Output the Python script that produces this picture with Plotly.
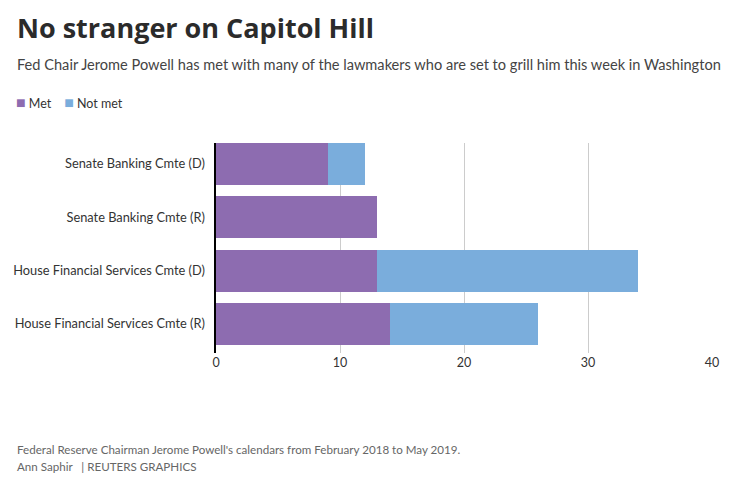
import plotly.graph_objects as go

categories = ["Senate Banking Cmte (D)", "Senate Banking Cmte (R)",
              "House Financial Services Cmte (D)", "House Financial Services Cmte (R)"]
met = [9, 13, 13, 14]
not_met = [3, 0, 21, 12]
x_ticks = [0, 10, 20, 30, 40]
series_names = ["Met", "Not met"]
series_colors = ["#8d6cb0", "#7aaddc"]

FONT = "Lato"
OFF = 8  # page body margin
W, H = 740 - OFF, 484 - OFF
L, R, T, B = 216 - OFF, 28, 143 - OFF, 131
pw, ph = W - L - R, H - T - B

def px(x):
    return (x - OFF - L) / pw

def py(y):
    return (H - B - (y - OFF)) / ph

fig = go.Figure()
for name, vals, col in zip(series_names, [met, not_met], series_colors):
    fig.add_trace(go.Bar(y=categories, x=vals, name=name, orientation="h",
                         marker=dict(color=col, line=dict(width=0)), showlegend=False))

def sq(c):
    return f'<span style="color:{c};font-size:16px">■</span>'

annotations = [
    dict(text="<b>No stranger on Capitol Hill</b>", x=px(15), y=py(28),
         font=dict(size=27, color="#2b2b2b", family="Open Sans")),
    dict(text="Fed Chair Jerome Powell has met with many of the lawmakers who are set to grill him this week in Washington",
         x=px(15), y=py(64), font=dict(size=14.6, color="#444444", family=FONT)),
    dict(text=f"{sq(series_colors[0])} {series_names[0]}    {sq(series_colors[1])} {series_names[1]}",
         x=px(14), y=py(101), font=dict(size=12.5, color="#333333", family=FONT)),
    dict(text="Federal Reserve Chairman Jerome Powell's calendars from February 2018 to May 2019.",
         x=px(15), y=py(449), font=dict(size=11.6, color="#666666", family=FONT)),
    dict(text="Ann Saphir   | REUTERS GRAPHICS",
         x=px(15), y=py(467), font=dict(size=11.6, color="#666666", family=FONT)),
]
for a in annotations:
    a.update(xref="paper", yref="paper", xanchor="left", yanchor="middle",
             showarrow=False, align="left")

fig.update_layout(
    width=W, height=H,
    margin=dict(l=L, r=R, t=T, b=B, pad=0, autoexpand=False),
    barmode="stack", bargap=0.21,
    paper_bgcolor="white", plot_bgcolor="white",
    font=dict(family=FONT, size=12, color="#333333"),
    showlegend=False,
    annotations=annotations,
    xaxis=dict(range=[0, 40], tickvals=x_ticks, showgrid=True, gridcolor="#cccccc",
               gridwidth=1, zeroline=False, showline=False, ticks="", automargin=False,
               tickfont=dict(size=12.5, color="#333333"), fixedrange=True),
    yaxis=dict(range=[3.546, -0.394], showgrid=False, zeroline=False, automargin=False,
               showline=True, linecolor="#000000", linewidth=2, ticks="",
               ticksuffix="  ", tickfont=dict(size=12.8, color="#333333"), fixedrange=True),
)

fig.write_html("out.html")
